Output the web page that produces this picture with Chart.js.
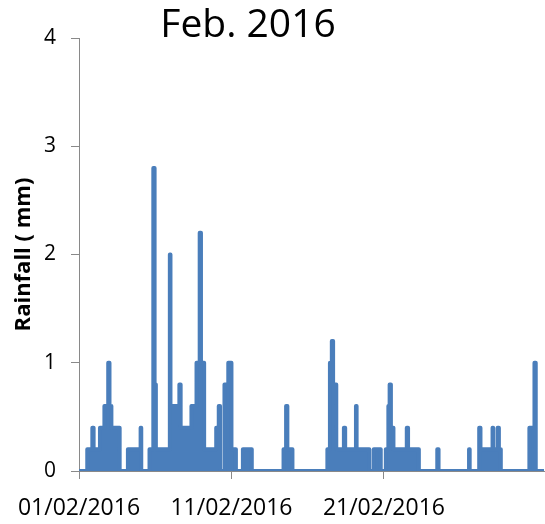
<!DOCTYPE html>
<html>
<head>
<meta charset="utf-8">
<title>Feb. 2016 rainfall</title>
<script src="https://cdn.jsdelivr.net/npm/chart.js@4.4.1/dist/chart.umd.min.js"></script>
<style>
  html, body { margin: 0; padding: 0; background: #fff; }
  #wrap { width: 545px; height: 524px; }
</style>
</head>
<body>
<div id="wrap"><canvas id="chart" width="545" height="524"></canvas></div>
<script>
// hours since 01/02/2016 00:00 where the rainfall reading changes
var stepHours = [0, 13, 21, 23, 33, 40, 46, 48, 51, 64, 77, 97, 98, 111, 117, 119, 121, 143, 144, 158,
  160, 177, 185, 190, 192, 197, 216, 220, 222, 229, 235, 240, 247, 258, 272, 322, 326, 328, 336, 391,
  395, 398, 400, 405, 417, 419, 436, 437, 457, 464, 475, 483, 487, 489, 491, 495, 516, 518, 535, 564,
  566, 614, 615, 630, 632, 651, 652, 659, 661, 664, 709, 717, 719, 732];
// rainfall (mm) from that hour on
var rainMm = [0, 0.2, 0.4, 0.2, 0.4, 0.6, 1.0, 0.6, 0.4, 0, 0.2, 0.4, 0, 0.2, 2.8, 0.8, 0.2, 2.0, 0.6, 0.8,
  0.4, 0.6, 1.0, 2.2, 1.0, 0.2, 0.4, 0.6, 0, 0.8, 1.0, 0.2, 0, 0.2, 0, 0.2, 0.6, 0.2, 0, 0.2,
  1.0, 1.2, 0.8, 0.2, 0.4, 0.2, 0.6, 0.2, 0, 0.2, 0, 0.2, 0.6, 0.8, 0.4, 0.2, 0.4, 0.2, 0, 0.2,
  0, 0.2, 0, 0.4, 0.2, 0.4, 0.2, 0.4, 0.2, 0, 0.4, 1.0, 0, 0];

var tickHours = [0, 240, 480];
var tickLabels = ["01/02/2016", "11/02/2016", "21/02/2016"];
var chartTitle = "Feb. 2016";
var yTitle = "Rainfall ( mm)";

var axisGrey = "#898989";
var lineBlue = "#4a7ebb";

var points = stepHours.map(function (h, i) { return {x: h, y: rainMm[i]}; });

// title sits a bit left of centre, like the original sheet
var sheetTitle = {
  id: 'sheetTitle',
  afterDraw: function (chart) {
    var ctx = chart.ctx;
    ctx.save();
    ctx.font = '39px "Open Sans"';
    ctx.fillStyle = '#000';
    ctx.textAlign = 'center';
    ctx.textBaseline = 'alphabetic';
    ctx.fillText(chartTitle, 248, 37);
    ctx.restore();
  }
};

var ctx = document.getElementById("chart").getContext("2d");
var rainChart = new Chart(ctx, {
  type: 'line',
  data: {
    datasets: [{
      label: 'Rainfall',
      data: points,
      stepped: true,
      borderColor: lineBlue,
      backgroundColor: lineBlue,
      borderWidth: 4,
      borderJoinStyle: 'round',
      borderCapStyle: 'round',
      fill: 'origin',
      pointRadius: 0,
      tension: 0
    }]
  },
  options: {
    responsive: false,
    animation: false,
    devicePixelRatio: 1,
    layout: { padding: {top: 38, right: 1, bottom: 0, left: 0} },
    plugins: {
      legend: { display: false },
      tooltip: { enabled: false }
    },
    scales: {
      x: {
        type: 'linear',
        min: 0,
        max: 732,
        afterBuildTicks: function (scale) {
          scale.ticks = tickHours.map(function (v) { return {value: v}; });
        },
        afterFit: function (scale) { scale.height = 53; },
        ticks: {
          autoSkip: false,
          maxRotation: 0,
          padding: 16,
          color: '#000',
          font: { family: '"Open Sans"', size: 23 },
          callback: function (value) {
            var i = tickHours.indexOf(value);
            return i >= 0 ? tickLabels[i] : '';
          }
        },
        grid: { drawOnChartArea: false, drawTicks: true, tickLength: 8, color: axisGrey },
        border: { color: axisGrey, width: 1 }
      },
      y: {
        min: 0,
        max: 4,
        afterFit: function (scale) { scale.width = 79; },
        ticks: {
          stepSize: 1,
          padding: 15,
          color: '#000',
          font: { family: '"Open Sans"', size: 21 }
        },
        grid: { drawOnChartArea: false, drawTicks: true, tickLength: 8, color: axisGrey },
        border: { color: axisGrey, width: 1 },
        title: {
          display: true,
          text: yTitle,
          color: '#000',
          font: { family: '"Open Sans"', size: 22, weight: 'bold' },
          padding: {top: 11, bottom: 0}
        }
      }
    }
  },
  plugins: [sheetTitle]
});
</script>
</body>
</html>
